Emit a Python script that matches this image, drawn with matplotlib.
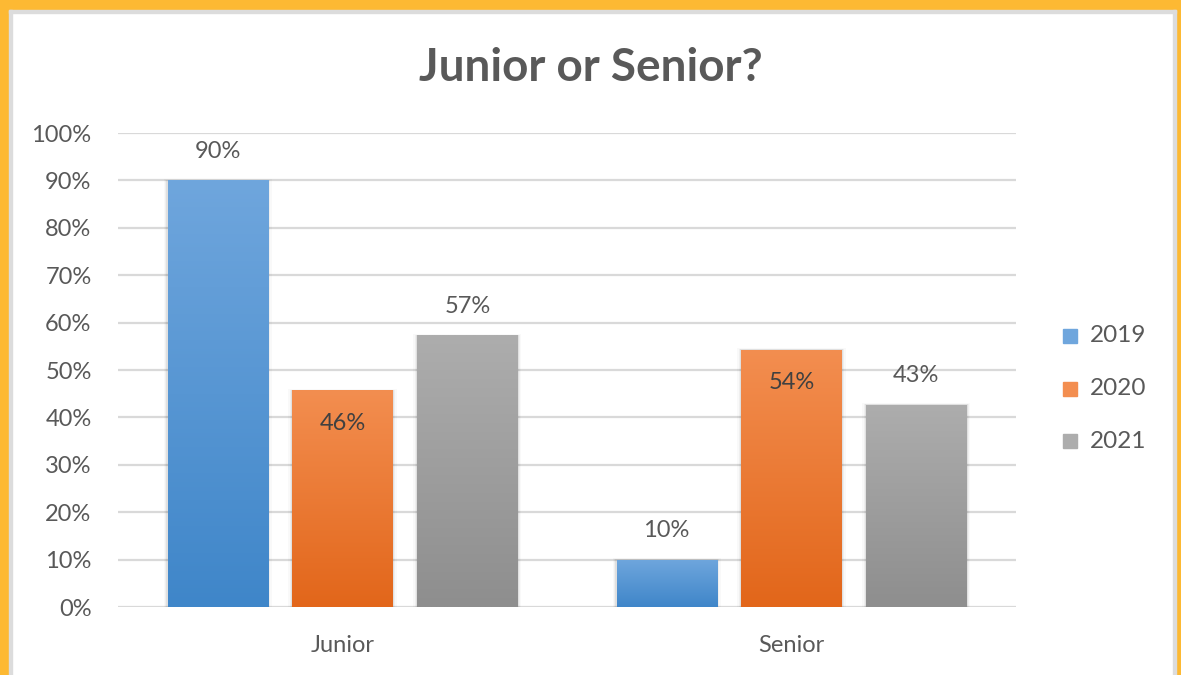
import numpy as np
import matplotlib
matplotlib.use("Agg")
from matplotlib import pyplot as plt
from matplotlib.patches import Rectangle
from matplotlib.colors import LinearSegmentedColormap

categorias = ["Junior", "Senior"]
anos = ["2019", "2020", "2021"]
valores = {
    "2019": [0.90, 0.10],
    "2020": [0.457, 0.543],
    "2021": [0.573, 0.427],
}
rotulos_y = ["0%", "10%", "20%", "30%", "40%", "50%", "60%", "70%", "80%", "90%", "100%"]

# cor do topo, cor da base
gradientes = {
    "2019": ("#6fa6dd", "#3f86c9"),
    "2020": ("#f38e50", "#e2661a"),
    "2021": ("#adadad", "#8e8e8e"),
}
cinza_texto = "#595959"

plt.rcParams['font.family'] = ['Lato', 'DejaVu Sans']

W, H = 1181, 675
fig = plt.figure(figsize=(W / 100, H / 100), dpi=100)
fig.patch.set_facecolor("white")

# moldura laranja
laranja = "#fdb933"
fig.patches.append(Rectangle((0, 0), 9 / W, 1, transform=fig.transFigure, color=laranja, zorder=0))
fig.patches.append(Rectangle((0, 1 - 10 / H), 1, 10 / H, transform=fig.transFigure, color=laranja, zorder=0))
fig.patches.append(Rectangle((1 - 5 / W, 0), 5 / W, 1, transform=fig.transFigure, color=laranja, zorder=0))
fig.patches.append(Rectangle((9 / W, 0), 2.5 / W, 1 - 10 / H, transform=fig.transFigure, color="#dcdcdc", zorder=0))
fig.patches.append(Rectangle((9 / W, 1 - 12.5 / H), 1 - 14 / W, 2.5 / H, transform=fig.transFigure, color="#dcdcdc", zorder=0))
fig.patches.append(Rectangle((1 - 8 / W, 0), 3 / W, 1 - 10 / H, transform=fig.transFigure, color="#dcdcdc", zorder=0))

ax = fig.add_axes([118 / W, (H - 607) / H, (1016 - 118) / W, (607 - 133) / H])
ax.set_facecolor("none")

largura = 0.223
passo = 0.278
x = np.arange(len(categorias))
px_x = 2.0 / 898
px_y = 1.0 / 474

for i, ano in enumerate(anos):
    topo, base = gradientes[ano]
    cmap = LinearSegmentedColormap.from_list("g" + ano, [base, topo])
    grad = np.linspace(0, 1, 256).reshape(-1, 1)
    for j, v in enumerate(valores[ano]):
        x0 = x[j] + (i - 1) * passo - largura / 2
        # sombra suave
        for k, a in [(4, 0.025), (2.5, 0.04), (1.2, 0.06)]:
            ax.add_patch(Rectangle((x0 - k * px_x, 0), largura + 2 * k * px_x, v + k * px_y * 0.3,
                                   facecolor="#000000", alpha=a, edgecolor="none", zorder=2))
        ret = Rectangle((x0, 0), largura, v, facecolor="none", edgecolor="none", zorder=3)
        ax.add_patch(ret)
        im = ax.imshow(grad, extent=(x0, x0 + largura, 0, v), origin="lower", cmap=cmap,
                       aspect="auto", zorder=3, interpolation="bilinear")
        im.set_clip_path(ret)
        if ano == "2020":
            ax.text(x[j] + (i - 1) * passo, v - 33 * px_y, f"{v:.0%}", ha="center", va="center",
                    fontsize=17, color="#404040", zorder=4)
        else:
            ax.text(x[j] + (i - 1) * passo, v + 29 * px_y, f"{v:.0%}", ha="center", va="center",
                    fontsize=17, color=cinza_texto, zorder=4)

ax.set_xlim(-0.5, 1.5)
ax.set_ylim(0, 1)
ax.set_yticks(np.linspace(0, 1, 11))
ax.set_yticklabels(rotulos_y, fontsize=17, color=cinza_texto)
ax.set_xticks(x)
ax.set_xticklabels(categorias, fontsize=17, color=cinza_texto)
ax.tick_params(axis="both", length=0)
ax.tick_params(axis="y", pad=19)
ax.tick_params(axis="x", pad=20)
ax.yaxis.grid(True, color="#d9d9d9", linewidth=1.6, zorder=1)
ax.set_axisbelow(True)
for s in ax.spines.values():
    s.set_visible(False)

fig.text(591 / W, 1 - 68 / H, "Junior or Senior?", ha="center", va="center",
         fontsize=33, fontweight="bold", color=cinza_texto)

# legenda
for i, ano in enumerate(anos):
    yc = 336 + i * 52.5
    fig.patches.append(Rectangle((1063 / W, 1 - (yc + 7) / H), 14 / W, 14 / H,
                                 transform=fig.transFigure, color=gradientes[ano][0], zorder=3))
    fig.text(1090 / W, 1 - yc / H, ano, ha="left", va="center", fontsize=17.5, color=cinza_texto)

fig.savefig("out.png", dpi=100)
